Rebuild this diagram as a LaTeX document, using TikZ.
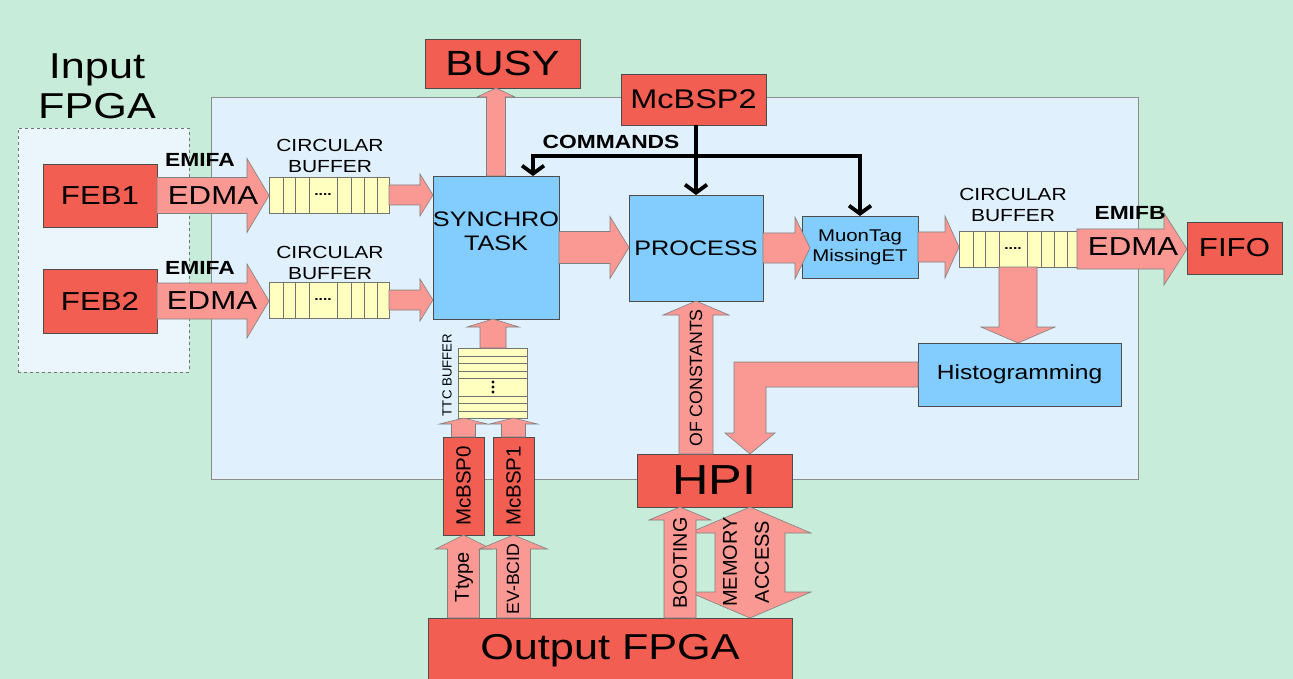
\documentclass[tikz,border=0pt]{standalone}
\usepackage{fontspec}
\setmainfont[FakeStretch=1.2]{Liberation Sans}
\newfontfamily\vfont{Liberation Sans}
\usetikzlibrary{arrows.meta,calc}

\definecolor{bggreen}{RGB}{200,236,218}
\definecolor{dspblue}{RGB}{224,241,253}
\definecolor{inblue}{RGB}{234,245,252}
\definecolor{boxred}{RGB}{243,94,82}
\definecolor{boxblue}{RGB}{130,204,254}
\definecolor{salmon}{RGB}{250,153,148}
\definecolor{bufyellow}{RGB}{255,255,192}

% fat arrows: #1 start, #2 target, #3 shaft half width, #4 head half width, #5 head length
\newcommand{\fatright}[5]{\filldraw[fat] let \p1=(#1), \p2=(#2) in
  (\x1,\y1+#3) -- (\x2-#5,\y1+#3) -- (\x2-#5,\y1+#4) -- (\x2,\y1)
  -- (\x2-#5,\y1-#4) -- (\x2-#5,\y1-#3) -- (\x1,\y1-#3) -- cycle;}
\newcommand{\fatup}[5]{\filldraw[fat] let \p1=(#1), \p2=(#2) in
  (\x1-#3,\y1) -- (\x1-#3,\y2-#5) -- (\x1-#4,\y2-#5) -- (\x1,\y2)
  -- (\x1+#4,\y2-#5) -- (\x1+#3,\y2-#5) -- (\x1+#3,\y1) -- cycle;}
\newcommand{\fatdown}[5]{\filldraw[fat] let \p1=(#1), \p2=(#2) in
  (\x1-#3,\y1) -- (\x1-#3,\y2+#5) -- (\x1-#4,\y2+#5) -- (\x1,\y2)
  -- (\x1+#4,\y2+#5) -- (\x1+#3,\y2+#5) -- (\x1+#3,\y1) -- cycle;}
\newcommand{\fatboth}[5]{\filldraw[fat] let \p1=(#1), \p2=(#2) in
  (\x1-#3,\y1+#5) -- (\x1-#3,\y2-#5) -- (\x1-#4,\y2-#5) -- (\x1,\y2)
  -- (\x1+#4,\y2-#5) -- (\x1+#3,\y2-#5) -- (\x1+#3,\y1+#5)
  -- (\x1+#4,\y1+#5) -- (\x1,\y1) -- (\x1-#4,\y1+#5) -- cycle;}
% buffer cells
\newcommand{\cells}[1]{\foreach \d in {14,26,40,68,82,95,108}
  \draw[cellline] ([xshift=\d pt]#1.north west) -- ([xshift=\d pt]#1.south west);}
\newcommand{\rows}[1]{\foreach \d in {8,15,23,30,48,55,63}
  \draw[cellline] ([yshift=-\d pt]#1.north west) -- ([yshift=-\d pt]#1.north east);}

\begin{document}
\begin{tikzpicture}[x=1pt,y=-1pt]
    \tikzstyle{box} = [rectangle, draw=black!70, line width=0.7pt, inner sep=0pt,
        outer sep=0pt, align=center]
    \tikzstyle{redbox} = [box, fill=boxred]
    \tikzstyle{bluebox} = [box, fill=boxblue]
    \tikzstyle{vbox} = [redbox, rotate=90, font=\vfont\fontsize{20.5}{24}\selectfont]
    \tikzstyle{cbuf} = [box, fill=bufyellow, draw=black!55]
    \tikzstyle{cellline} = [draw=black!55, line width=0.7pt]
    \tikzstyle{fat} = [fill=salmon, draw=black!50, line width=0.6pt]
    \tikzstyle{cmd} = [draw, line width=3.8pt, line join=miter,
        -{Straight Barb[length=8pt,width=22pt]}]
    \tikzstyle{lbl} = [inner sep=0pt, align=center]
    \tikzstyle{bold} = [lbl, font=\bfseries\fontsize{19}{22}\selectfont]
    \tikzstyle{small} = [lbl, font=\fontsize{17.5}{21}\selectfont]
    \tikzstyle{vlbl} = [lbl, rotate=90, font=\vfont\fontsize{20}{32}\selectfont]

    \clip (0,0) rectangle (1293,679);
    \fill[bggreen] (0,0) rectangle (1293,679);

    % DSP board and input FPGA
    \node[box, draw=black!45, fill=dspblue, minimum width=927, minimum height=382]
        (dsp) at (674.5,288) {};
    \node[box, draw=black!55, dashed, fill=inblue, minimum width=171,
        minimum height=244] (infpga) at (103.5,250) {};
    \node[lbl, font=\fontsize{36}{40}\selectfont] (inname) at (97,86) {Input\\FPGA};

    % blocks
    \node[redbox, minimum width=114, minimum height=63, font=\fontsize{26}{30}\selectfont]
        (feb1) at (100,195.5) {FEB1};
    \node[redbox, minimum width=114, minimum height=64, font=\fontsize{26}{30}\selectfont]
        (feb2) at (100,301) {FEB2};
    \node[redbox, minimum width=155, minimum height=49, font=\fontsize{35}{40}\selectfont]
        (busy) at (502.5,63.5) {BUSY};
    \node[redbox, minimum width=145, minimum height=51, font=\fontsize{27}{30}\selectfont]
        (mcbsp2) at (693.5,99.5) {McBSP2};
    \node[bluebox, minimum width=126, minimum height=143, font=\fontsize{21}{24}\selectfont]
        (synchro) at (496,247.5) {SYNCHRO\\TASK\\[8pt]};
    \node[bluebox, minimum width=134, minimum height=106, font=\fontsize{21}{24}\selectfont]
        (process) at (696,248) {PROCESS};
    \node[bluebox, minimum width=116, minimum height=62, font=\fontsize{17}{20}\selectfont]
        (muon) at (860,247) {MuonTag\\MissingET};
    \node[bluebox, minimum width=203, minimum height=63, font=\fontsize{20.5}{24}\selectfont]
        (hist) at (1019.5,374.5) {Histogramming};
    \node[redbox, minimum width=95, minimum height=52, font=\fontsize{26}{30}\selectfont]
        (fifo) at (1234.5,248) {FIFO};
    \node[redbox, minimum width=155, minimum height=53, font=\fontsize{42}{46}\selectfont]
        (hpi) at (714.5,480.5) {HPI};
    \node[redbox, minimum width=364, minimum height=66, font=\fontsize{36}{40}\selectfont]
        (outfpga) at (610,651) {\raisebox{4pt}{Output FPGA}};
    \node[vbox, minimum width=98, minimum height=41] (mcbsp0) at (463.5,486) {McBSP0};
    \node[vbox, minimum width=98, minimum height=41] (mcbsp1) at (513.5,486) {McBSP1};

    % circular buffers
    \node[cbuf, minimum width=120, minimum height=36] (cb1) at (329,195) {};
    \node[cbuf, minimum width=120, minimum height=36] (cb2) at (329,300) {};
    \node[cbuf, minimum width=118, minimum height=36] (cb3) at (1018,249) {};
    \cells{cb1} \cells{cb2} \cells{cb3}
    \foreach \b in {cb1,cb2,cb3}
      \node[lbl, font=\bfseries\fontsize{13}{13}\selectfont] at ([xshift=54pt]\b.west)
          {....};
    \node[small] (cb1name) at (330,156) {CIRCULAR\\BUFFER};
    \node[small] (cb2name) at (330,263) {CIRCULAR\\BUFFER};
    \node[small] (cb3name) at (1013,205) {CIRCULAR\\BUFFER};
    % TTC buffer
    \node[cbuf, minimum width=69, minimum height=70] (ttc) at (493,383) {};
    \rows{ttc}
    \foreach \d in {382,387,392} \fill (493,\d) circle (1.6pt);
    \node[lbl, rotate=90, font=\vfont\fontsize{13.2}{15}\selectfont] (ttcname)
        at (447,375) {TTC BUFFER};

    % data flow
    \fatright{feb1.east}{cb1.west}{18pt}{37pt}{22pt}
    \fatright{feb2.east}{cb2.west}{18pt}{37pt}{22pt}
    \fatright{cb1.east}{synchro.west}{10pt}{21pt}{13pt}
    \fatright{cb2.east}{synchro.west}{10pt}{21pt}{13pt}
    \fatright{synchro.east}{process.west}{16pt}{31pt}{19pt}
    \fatright{process.east}{[xshift=8pt]muon.west}{15pt}{31pt}{15pt}
    \fatright{muon.east}{cb3.west}{15pt}{31pt}{14pt}
    \fatright{cb3.east}{fifo.west}{20pt}{36pt}{23pt}
    \fatup{synchro.north}{busy.south}{9.5pt}{19pt}{9pt}
    \fatdown{cb3.south}{hist.north}{19pt}{37pt}{16pt}
    \fatup{ttc.north}{synchro.south}{13pt}{26pt}{8pt}
    \fatup{mcbsp0.east}{ttc.south}{12pt}{24pt}{6pt}
    \fatup{mcbsp1.east}{ttc.south}{12pt}{24pt}{6pt}
    \fatup{mcbsp0.west |- outfpga.north}{mcbsp0.west}{16pt}{28pt}{14pt}
    \fatup{mcbsp1.west |- outfpga.north}{mcbsp1.west}{17pt}{34pt}{14pt}
    \fatup{process.south |- hpi.north}{process.south}{17pt}{33pt}{14pt}
    \fatboth{$(outfpga.north)+(140,0)$}{hpi.south}{35pt}{61pt}{26pt}
    \fatup{$(outfpga.north)+(70,0)$}{hpi.south}{16pt}{31pt}{13pt}
    \filldraw[fat] let \p1=(hist.west), \p2=($(hpi.north)+(35.5,0)$) in
      (\x1,\y1+12.5pt) -- (\x2-16pt,\y1+12.5pt) -- (\x2-16pt,\y2+21pt)
      -- (\x2-25pt,\y2+21pt) -- (\x2,\y2) -- (\x2+25pt,\y2+21pt)
      -- (\x2+16pt,\y2+21pt) -- (\x2+16pt,\y1-12.5pt) -- (\x1,\y1-12.5pt) -- cycle;

    % arrow labels
    \node[lbl, font=\fontsize{26}{30}\selectfont] (edma1) at (213,196) {EDMA};
    \node[lbl, font=\fontsize{26}{30}\selectfont] (edma2) at (212,301) {EDMA};
    \node[lbl, font=\fontsize{26}{30}\selectfont] (edma3) at (1133,247) {EDMA};
    \node[bold] (emifa1) at (200,160) {EMIFA};
    \node[bold] (emifa2) at (200,268) {EMIFA};
    \node[bold] (emifb) at (1130,213) {EMIFB};
    \node[vlbl, font=\vfont\fontsize{17.7}{20}\selectfont] (constname)
        at (696,378) {OF CONSTANTS};
    \node[vlbl] (ttype) at (464,577) {Ttype};
    \node[vlbl, font=\vfont\fontsize{17.7}{20}\selectfont] (evbcid)
        at (513,579) {EV-BCID};
    \node[vlbl, font=\vfont\fontsize{19.7}{22}\selectfont] (bootname)
        at (680,563) {BOOTING};
    \node[vlbl] (memname) at (746,562) {MEMORY\\ACCESS};

    % commands from McBSP2
    \coordinate (cmdl) at (533,156);
    \coordinate (cmdr) at (860,156);
    \draw[cmd] (process.north |- mcbsp2.south) -- (process.north);
    \draw[cmd] (cmdr) -- (cmdl) -- (cmdl |- synchro.north);
    \draw[cmd] ([xshift=-1.9pt]cmdr) -- (cmdr) -- (cmdr |- muon.north);
    \node[bold] (cmdname) at (611,142) {COMMANDS};
\end{tikzpicture}
\end{document}
